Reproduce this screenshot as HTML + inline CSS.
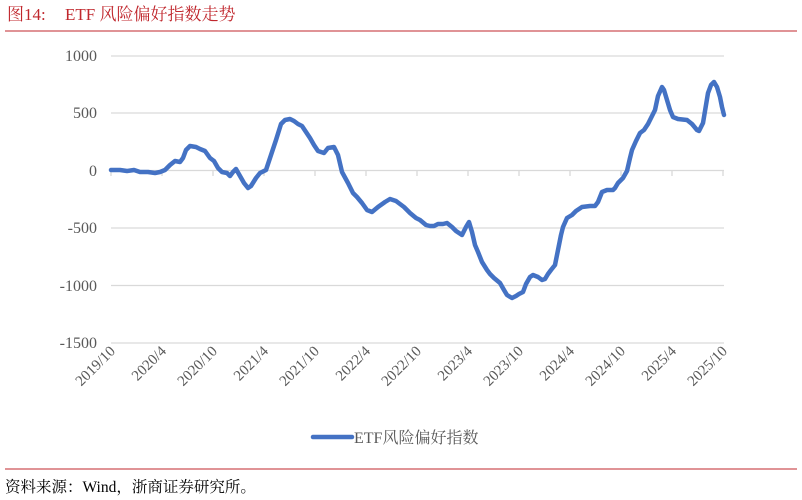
<!DOCTYPE html>
<html><head><meta charset="utf-8"><style>
body{margin:0;background:#fff;width:802px;height:500px;overflow:hidden;}
svg{display:block}
</style></head><body>
<svg width="802" height="500" xmlns="http://www.w3.org/2000/svg" font-family="Liberation Serif, Noto Serif CJK SC, serif">
<text x="7" y="20" font-size="17" fill="#c0272d">图14:</text>
<text x="65" y="20" font-size="17" fill="#c0272d">ETF 风险偏好指数走势</text>
<line x1="5" y1="31" x2="797" y2="31" stroke="#c0272d" stroke-width="1"/>
<g stroke="#d9d9d9" stroke-width="1.3">
<line x1="111" y1="56" x2="724" y2="56"/>
<line x1="111" y1="113" x2="724" y2="113"/>
<line x1="111" y1="170.5" x2="724" y2="170.5"/>
<line x1="111" y1="228" x2="724" y2="228"/>
<line x1="111" y1="285.5" x2="724" y2="285.5"/>
<line x1="111" y1="343" x2="724" y2="343"/>
</g>
<g stroke="#d9d9d9" stroke-width="1.3">
<line x1="111" y1="170" x2="111" y2="176"/><line x1="162" y1="170" x2="162" y2="176"/><line x1="213" y1="170" x2="213" y2="176"/><line x1="264" y1="170" x2="264" y2="176"/><line x1="315" y1="170" x2="315" y2="176"/><line x1="366" y1="170" x2="366" y2="176"/><line x1="417" y1="170" x2="417" y2="176"/><line x1="468" y1="170" x2="468" y2="176"/><line x1="519" y1="170" x2="519" y2="176"/><line x1="570" y1="170" x2="570" y2="176"/><line x1="621" y1="170" x2="621" y2="176"/><line x1="672" y1="170" x2="672" y2="176"/><line x1="723" y1="170" x2="723" y2="176"/>
</g>
<g font-size="16" fill="#595959" text-anchor="end">
<text x="97" y="61">1000</text><text x="97" y="118">500</text><text x="97" y="176">0</text>
<text x="97" y="233">-500</text><text x="97" y="291">-1000</text><text x="97" y="348">-1500</text>
</g>
<g font-size="15" fill="#595959" text-anchor="end">
<text transform="translate(116,352) rotate(-45)">2019/10</text>
<text transform="translate(167,352) rotate(-45)">2020/4</text>
<text transform="translate(218,352) rotate(-45)">2020/10</text>
<text transform="translate(269,352) rotate(-45)">2021/4</text>
<text transform="translate(320,352) rotate(-45)">2021/10</text>
<text transform="translate(371,352) rotate(-45)">2022/4</text>
<text transform="translate(422,352) rotate(-45)">2022/10</text>
<text transform="translate(473,352) rotate(-45)">2023/4</text>
<text transform="translate(524,352) rotate(-45)">2023/10</text>
<text transform="translate(575,352) rotate(-45)">2024/4</text>
<text transform="translate(626,352) rotate(-45)">2024/10</text>
<text transform="translate(677,352) rotate(-45)">2025/4</text>
<text transform="translate(728,352) rotate(-45)">2025/10</text>
</g>
<polyline fill="none" stroke="#4472c4" stroke-width="4.5" stroke-linejoin="round" stroke-linecap="round" points="111,170 120,170 127,171 134,170 140,172 148,172 155,173 160,172 165,170 170,165 175,161 180,162 183,158 186,150 190,146 196,147 200,149 205,151 210,158 214,161 218,168 222,172 227,173 230,176 233,172 236,169 240,176 244,183 248,188 251,186 256,178 260,173 266,170 270,158 276,140 281,124 285,120 290,119 294,121 298,124 302,126 306,132 310,138 314,145 318,151 324,153 328,148 334,147 338,155 342,172 348,183 353,193 357,197 362,203 367,210 372,212 378,207 385,202 390,199 396,201 400,204 404,207 410,213 416,218 420,220 426,225 430,226 434,226 438,224 443,224 447,223 452,227 456,231 462,235 466,227 469,222 472,232 475,245 478,252 482,262 487,270 490,274 494,278 500,283 504,290 507,295 512,298 516,296 519,294 523,292 526,284 530,277 533,275 538,277 542,280 545,279 548,274 551,270 555,265 558,250 561,235 563,227 567,218 572,215 576,211 582,207 590,206 595,206 598,202 602,192 607,190 613,190 615,188 618,183 623,178 627,171 630,158 632,150 636,141 640,133 644,130 648,124 651,118 655,110 658,96 662,87 664,90 667,100 670,110 673,117 678,119 687,120 692,124 697,130 699,131 703,123 706,105 708,93 711,85 714,82 717,87 720,97 722,107 724,115"/>
<line x1="313" y1="437" x2="352" y2="437" stroke="#4472c4" stroke-width="4.5" stroke-linecap="round"/>
<text x="354" y="443" font-size="16" fill="#595959">ETF风险偏好指数</text>
<line x1="5" y1="469" x2="797" y2="469" stroke="#c0272d" stroke-width="1"/>
<text x="5" y="492" font-size="15.5" fill="#000">资料来源：Wind，浙商证券研究所。</text>
</svg>
</body></html>
